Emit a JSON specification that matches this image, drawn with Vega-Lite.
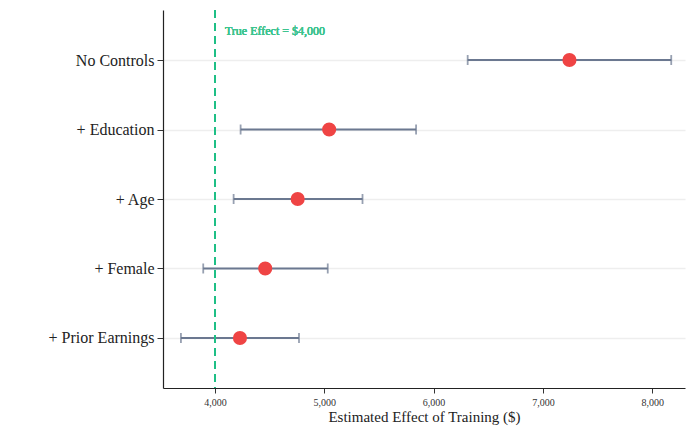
{
  "$schema": "https://vega.github.io/schema/vega-lite/v6.json",
  "width": 522,
  "height": 378,
  "autosize": "none",
  "padding": {"left": 163, "top": 10, "right": 3, "bottom": 46},
  "background": "white",
  "config": {
    "view": {"stroke": null},
    "font": "Liberation Serif"
  },
  "data": {
    "values": [
      {"model": "No Controls", "estimate": 7243, "lower": 6312, "upper": 8174},
      {"model": "+ Education", "estimate": 5045, "lower": 4235, "upper": 5840},
      {"model": "+ Age", "estimate": 4757, "lower": 4171, "upper": 5350},
      {"model": "+ Female", "estimate": 4460, "lower": 3893, "upper": 5032},
      {"model": "+ Prior Earnings", "estimate": 4229, "lower": 3689, "upper": 4769}
    ]
  },
  "encoding": {
    "y": {
      "field": "model",
      "type": "nominal",
      "sort": null,
      "scale": {"type": "point", "padding": 0.72},
      "axis": {
        "title": null,
        "labelFont": "Liberation Serif",
        "labelFontSize": 16,
        "labelColor": "#222222",
        "labelPadding": 3,
        "tickSize": 6,
        "tickColor": "#333333",
        "domainColor": "#222222",
        "domainWidth": 1.2,
        "grid": true,
        "gridColor": "#eeeeee",
        "gridWidth": 1.5
      }
    }
  },
  "layer": [
    {
      "mark": {"type": "rule", "color": "#6b7890", "strokeWidth": 2},
      "encoding": {
        "x": {
          "field": "lower",
          "type": "quantitative",
          "scale": {"domain": [3525, 8300], "nice": false, "zero": false},
          "axis": {
            "title": "Estimated Effect of Training ($)",
            "titleFont": "Liberation Serif",
            "titleFontSize": 15,
            "titleFontWeight": "normal",
            "titleColor": "#222222",
            "titlePadding": 2,
            "labelFont": "Liberation Serif",
            "labelFontSize": 10,
            "labelColor": "#333333",
            "labelPadding": 4,
            "values": [4000, 5000, 6000, 7000, 8000],
            "format": ",.0f",
            "tickSize": 5,
            "tickColor": "#333333",
            "domainColor": "#222222",
            "domainWidth": 1.2,
            "grid": false
          }
        },
        "x2": {"field": "upper"}
      }
    },
    {
      "mark": {"type": "tick", "color": "#6b7890", "size": 10, "thickness": 1.8, "orient": "vertical"},
      "encoding": {"x": {"field": "lower", "type": "quantitative"}}
    },
    {
      "mark": {"type": "tick", "color": "#6b7890", "size": 10, "thickness": 1.8, "orient": "vertical"},
      "encoding": {"x": {"field": "upper", "type": "quantitative"}}
    },
    {
      "mark": {"type": "rule", "color": "#1fbf86", "strokeWidth": 1.8, "strokeDash": [8, 5]},
      "encoding": {"x": {"datum": 4000, "type": "quantitative"}, "y": {"value": 0}, "y2": {"value": 378}}
    },
    {
      "mark": {"type": "text", "color": "#3cc48f", "fontSize": 12, "fontWeight": 300, "font": "Liberation Serif", "align": "left", "baseline": "middle", "dx": 10, "dy": -29},
      "encoding": {
        "x": {"datum": 4000, "type": "quantitative"},
        "y": {"datum": "No Controls"},
        "text": {"value": "True Effect = $4,000"}
      }
    },
    {
      "mark": {"type": "circle", "color": "#ef4444", "size": 200, "opacity": 1},
      "encoding": {"x": {"field": "estimate", "type": "quantitative"}}
    }
  ]
}
